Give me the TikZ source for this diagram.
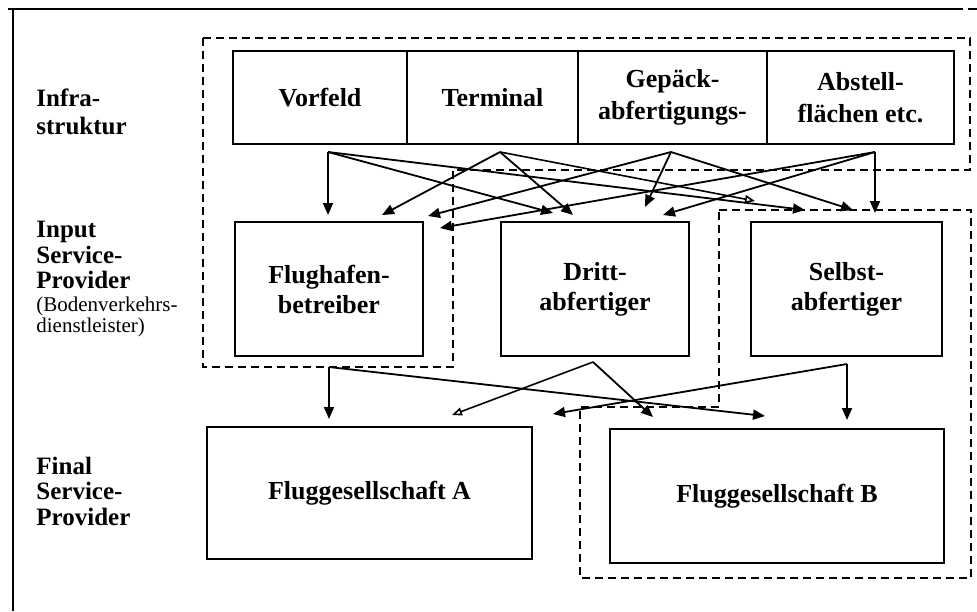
\documentclass[tikz,border=0pt]{standalone}
\usepackage{fontspec}
\setmainfont{Liberation Serif}
\usepackage{tikz}
\usetikzlibrary{arrows.meta}

\tikzset{
  box/.style={draw=black, line width=1pt, align=center, inner sep=0pt, font=\fontsize{13}{15}\selectfont\bfseries},
  ebene/.style={anchor=west, align=left, inner sep=0pt, font=\fontsize{12.5}{12.75}\selectfont\bfseries},
  klein/.style={anchor=west, align=left, inner sep=0pt, font=\fontsize{10.5}{10.5}\selectfont},
  pfeil/.style={line width=0.9pt, -{Triangle[length=6pt,width=5pt]}},
  pfeiloffen/.style={line width=0.8pt, -{Triangle[open,length=5pt,width=4pt]}},
  grenze/.style={line width=0.9pt, dash pattern=on 4pt off 2.5pt},
}

\begin{document}
\begin{tikzpicture}[x=0.5pt,y=-0.5pt]
\useasboundingbox (0,0) rectangle (977,611);

% Rahmen
\draw[line width=1pt] (8,9)--(963,9);
\draw[line width=1pt] (968,9)--(977,9);
\draw[line width=1pt] (13,9)--(13,611);

% Ebenen
\node[ebene, font=\fontsize{12.5}{14}\selectfont\bfseries] (infra) at (36,112) {Infra-\\struktur};
\node[ebene] (input) at (36,255) {Input\\Service-\\Provider};
\node[klein] (boden) at (36,317) {(Bodenverkehrs-\\dienstleister)};
\node[ebene] (final) at (36,491) {Final\\Service-\\Provider};

% Infrastruktur
\node[box, minimum width=87pt, minimum height=46.5pt] (vorfeld) at (320,97.5) {Vorfeld};
\node[box, minimum width=85.5pt, minimum height=46.5pt] (terminal) at (492.5,97.5) {Terminal};
\node[box, minimum width=94.5pt, minimum height=46.5pt, font=\fontsize{13}{16}\selectfont\bfseries] (gepaeck) at (672.5,97.5) {Gepäck-\\abfertigungs-};
\node[box, minimum width=93.5pt, minimum height=46.5pt, font=\fontsize{13}{16}\selectfont\bfseries] (abstell) at (860.5,97.5) {Abstell-\\flächen etc.};

% Input Service-Provider
\node[box, minimum width=94pt, minimum height=67pt] (flughafen) at (329,289) {Flughafen-\\betreiber};
\node[box, minimum width=94pt, minimum height=67pt] (dritt) at (595,289) {Dritt-\\abfertiger};
\node[box, minimum width=95.5pt, minimum height=67pt] (selbst) at (846.5,289) {Selbst-\\abfertiger};

% Final Service-Provider
\node[box, minimum width=162.5pt, minimum height=66pt] (fga) at (369.5,493) {Fluggesellschaft A};
\node[box, minimum width=167pt, minimum height=67pt] (fgb) at (777,496) {Fluggesellschaft B};

% gestrichelte Grenzen
\draw[grenze] (203,38)--(970,38)--(970,170)--(453,170)--(453,367)--(203,367)--cycle;
\draw[grenze] (719,210)--(971,210)--(971,578)--(580,578)--(580,407)--(719,407)--cycle;

% Pfeilenden
\coordinate (vf) at (328,152);
\coordinate (tm) at (500,152);
\coordinate (gp) at (671,152);
\coordinate (ab) at (875,152);
\coordinate (fh) at (329,367);
\coordinate (dr) at (593,362);
\coordinate (sb) at (847,364);

\coordinate (fh1) at (328,215);
\coordinate (fh2) at (382,215);
\coordinate (fh3) at (428,216);
\coordinate (fh4) at (440,228);
\coordinate (dr1) at (553,213);
\coordinate (dr2) at (573,215);
\coordinate (dr3) at (645,207);
\coordinate (dr4) at (663,215);
\coordinate (sb1) at (805,210);
\coordinate (sb2) at (755,201);
\coordinate (sb3) at (853,210);
\coordinate (sb4) at (875,213);

\coordinate (fa1) at (329,419);
\coordinate (fa2) at (452,415);
\coordinate (fa3) at (553,414);
\coordinate (fb1) at (765,416);
\coordinate (fb2) at (653,417);
\coordinate (fb3) at (847,420);

% Infrastruktur -> Input
\draw[pfeil] (vf)--(fh1);
\draw[pfeil] (vf)--(dr1);
\draw[pfeil] (vf)--(sb1);
\draw[pfeil] (tm)--(fh2);
\draw[pfeil] (tm)--(dr2);
\draw[pfeiloffen] (tm)--(sb2);
\draw[pfeil] (gp)--(fh3);
\draw[pfeil] (gp)--(dr3);
\draw[pfeil] (gp)--(sb3);
\draw[pfeil] (ab)--(fh4);
\draw[pfeil] (ab)--(dr4);
\draw[pfeil] (ab)--(sb4);

% Input -> Final
\draw[pfeil] (fh)--(fa1);
\draw[pfeil] (fh)--(fb1);
\draw[pfeiloffen] (dr)--(fa2);
\draw[pfeil] (dr)--(fb2);
\draw[pfeil] (sb)--(fa3);
\draw[pfeil] (sb)--(fb3);

\end{tikzpicture}
\end{document}
